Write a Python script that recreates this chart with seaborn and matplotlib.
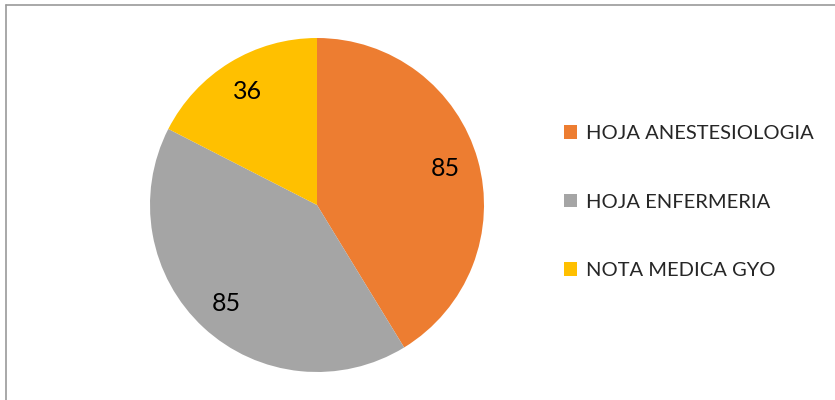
import matplotlib
matplotlib.use("Agg")
import matplotlib.pyplot as plt
from matplotlib.patches import Patch
from matplotlib.lines import Line2D
import seaborn as sns

categories = ["HOJA ANESTESIOLOGIA", "HOJA ENFERMERIA", "NOTA MEDICA GYO"]
counts = [85, 85, 36]
colors = sns.color_palette(["#ED7D31", "#A5A5A5", "#FFC000"])

sns.set_theme(style="white")
plt.rcParams["font.family"] = ["Lato", "DejaVu Sans"]

W, H = 835, 400
fig = plt.figure(figsize=(W / 100, H / 100), dpi=100)
fig.patch.set_facecolor("white")

# pie area: centre (317, 205), radius 167 px
cx, cy, r = 317, 205, 167
ax = fig.add_axes([(cx - r) / W, (H - cy - r) / H, 2 * r / W, 2 * r / H])
wedges, _, autotexts = ax.pie(
    counts,
    colors=colors,
    startangle=90,
    counterclock=False,
    autopct=lambda p: f"{round(p * sum(counts) / 100):d}",
    pctdistance=0.8,
    wedgeprops=dict(linewidth=0),
    textprops=dict(fontsize=18, color="#000000"),
)
ax.set_xlim(-1, 1)
ax.set_ylim(-1, 1)
ax.set_aspect("equal")
ax.axis("off")

handles = [Patch(facecolor=c, edgecolor="none") for c in colors]
fig.legend(
    handles, categories,
    loc="center left",
    bbox_to_anchor=(546 / W, 1 - 202 / H),
    frameon=False,
    fontsize=14.5,
    handlelength=0.65,
    handleheight=0.65,
    handletextpad=0.45,
    labelspacing=2.55,
)

# chart frame (left and top edges visible)
frame_kw = dict(color="#9a9a9a", linewidth=1.2, transform=fig.transFigure)
fig.add_artist(Line2D([5.5 / W, 5.5 / W], [0, 1 - 4.5 / H], **frame_kw))
fig.add_artist(Line2D([5.5 / W, 1], [1 - 4.5 / H, 1 - 4.5 / H], **frame_kw))

fig.savefig("out.png", dpi=100, facecolor="white")
